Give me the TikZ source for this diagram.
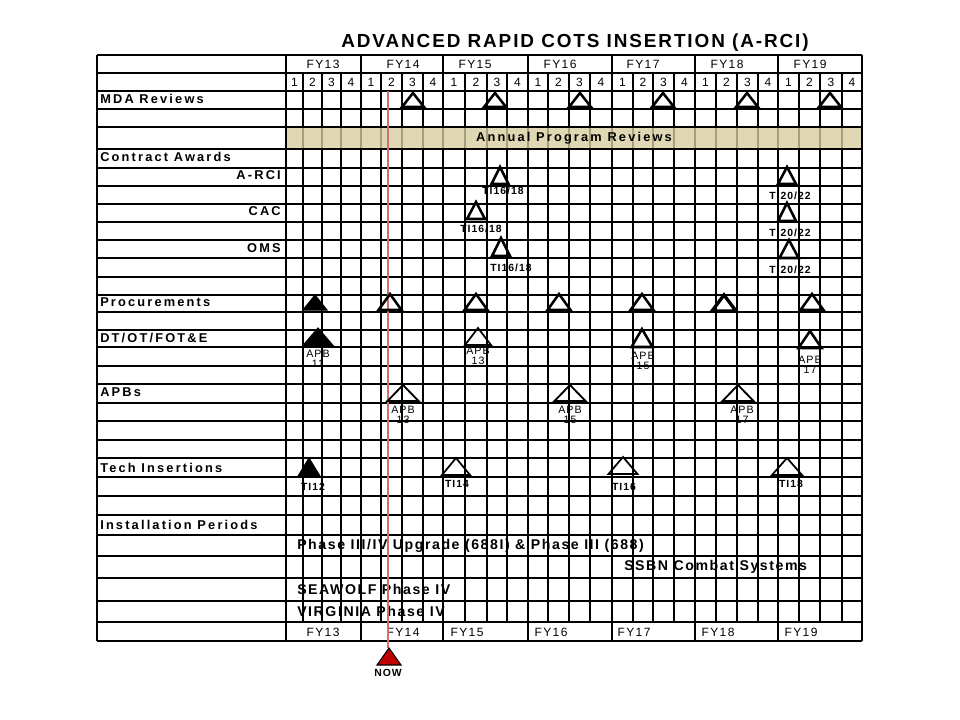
\documentclass[tikz,border=0pt]{standalone}
\usepackage{fontspec}
\setmainfont{Liberation Sans}
\newfontfamily\lblfont[LetterSpace=17]{Liberation Sans}
\newfontfamily\hdrfont[LetterSpace=12]{Liberation Sans}
\newfontfamily\smlfont[LetterSpace=10]{Liberation Sans}
\newfontfamily\ttlfont[LetterSpace=10]{Liberation Sans}
\newfontfamily\barfont[LetterSpace=11]{Liberation Sans}
\definecolor{tanbox}{RGB}{216,206,160}
\definecolor{nowline}{RGB}{210,110,110}
\definecolor{nowfill}{RGB}{192,0,0}
\newcommand{\mktri}[5]{\draw[#5] ({#1-#4},#3) -- (#1,#2) -- ({#1+#4},#3) -- cycle;}
\tikzset{
  gthin/.style={line width=1.1pt},
  gthick/.style={line width=2pt},
  tro/.style={line width=1.9pt, line join=miter},
  trf/.style={line width=0.8pt, fill=black, line join=miter},
  lbl/.style={font={\lblfont\bfseries\fontsize{9.6}{11}\selectfont}, inner sep=0pt},
  hdr/.style={font={\hdrfont\fontsize{9}{10}\selectfont}, inner sep=0pt},
  tilbl/.style={font={\smlfont\bfseries\fontsize{7.8}{8}\selectfont}, inner sep=0pt},
  apblbl/.style={font={\smlfont\fontsize{8}{7.5}\selectfont}, inner sep=0pt, align=center},
  barbox/.style={line width=2pt},
  bartxt/.style={font={\barfont\bfseries\fontsize{10.6}{12}\selectfont}, inner sep=0pt, anchor=west},
}
\begin{document}
\begin{tikzpicture}[x=0.75pt,y=-0.75pt]
\useasboundingbox (0,0) rectangle (960,720);
\fill[white] (0,0) rectangle (960,720);

% title
\node[font={\ttlfont\bfseries\fontsize{14.2}{15}\selectfont}, inner sep=0pt] (title) at (575,43) {ADVANCED RAPID COTS INSERTION (A-RCI)};

% horizontal lines
\foreach \y in {55,73,91,109,127,149,168,186,204,222,240,258,277,295,312,330,347,366,384,403,421,440,458,477,496,515,535,556,578,601,622,641}
  {\draw[gthin] (97,\y) -- (862,\y);}
% outer verticals
\draw[gthin] (97,55) -- (97,641);
\draw[gthin] (862,55) -- (862,641);
\draw[gthin] (286,55) -- (286,641);
\draw[gthick] (286,91) -- (286,622);
% quarter lines
\foreach \x in {303,322,341,381,402,423,507,528,548,569,590,612,633,653,674,758,778,799,820,842}
  {\draw[gthin] (\x,73) -- (\x,622);}
\foreach \x in {465,487,716,737}
  {\draw[gthick] (\x,73) -- (\x,622);}
\foreach \x in {443,695}
  {\draw[gthick] (\x,73) -- (\x,622);}
% year lines in header and footer rows
\foreach \x in {361,443,528,612,695,778} {
  \draw[gthin] (\x,55) -- (\x,73);
  \draw[gthin] (\x,622) -- (\x,641);
}
\draw[gthin] (361,73) -- (361,622);

% header texts
\foreach \c/\t in {323/FY13,403/FY14,475/FY15,560/FY16,643/FY17,727/FY18,810/FY19}
  {\node[hdr] (h\t) at (\c,64) {\t};}
\foreach \a/\b/\q in {286/303/1,303/322/2,322/341/3,341/361/4,361/381/1,381/402/2,402/423/3,423/443/4,443/465/1,465/487/2,487/507/3,507/528/4,528/548/1,548/569/2,569/590/3,590/612/4,612/633/1,633/653/2,653/674/3,674/695/4,695/716/1,716/737/2,737/758/3,758/778/4,778/799/1,799/820/2,820/842/3,842/862/4}
  {\node[hdr] (q\a) at ({(\a+\b)/2},82) {\q};}
% footer texts
\foreach \c/\t in {323/FY13,403/FY14,467/FY15,551/FY16,634/FY17,718/FY18,801/FY19}
  {\node[hdr] (f\t) at (\c,632) {\t};}

% left labels
\node[lbl, anchor=west] (lmda) at (100,99) {MDA Reviews};
\node[lbl, anchor=west] (lca) at (100,157) {Contract Awards};
\node[lbl, anchor=east] (larci) at (281,175) {A-RCI};
\node[lbl, anchor=east] (lcac) at (281,211) {CAC};
\node[lbl, anchor=east] (loms) at (281,248) {OMS};
\node[lbl, anchor=west] (lproc) at (100,302) {Procurements};
\node[lbl, anchor=west] (ldt) at (100,338) {DT/OT/FOT\&E};
\node[lbl, anchor=west] (lapb) at (100,392) {APBs};
\node[lbl, anchor=west] (lti) at (100,468) {Tech Insertions};
\node[lbl, anchor=west] (lip) at (100,525) {Installation Periods};

% annual program reviews box
\draw[line width=2pt, fill=tanbox, fill opacity=0.78] (286,127) rectangle (862,149);
\node[lbl] (apr) at (574,138) {Annual Program Reviews};

% installation bars
\draw[barbox] (286,535) rectangle (862,556);
\node[bartxt] (b1) at (297,546) {Phase III/IV Upgrade (688I) \& Phase III (688)};
\draw[barbox] (612,556) rectangle (862,578);
\node[bartxt] (b2) at (624,567) {SSBN Combat Systems};
\draw[barbox] (286,578) rectangle (862,601);
\node[bartxt] (b3) at (297,589) {SEAWOLF Phase IV};
\draw[barbox] (286,601) rectangle (862,622);
\node[bartxt] (b4) at (297,611) {VIRGINIA Phase IV};

% NOW line
\draw[nowline, line width=1.4pt] (388,91) -- (388,648);
\mktri{389}{648}{665}{12}{fill=nowfill, draw=black, line width=0.8pt}
\node[tilbl] (now) at (388,673) {NOW};

% MDA reviews
\foreach \x in {413,495,580,663,747,830}
  {\mktri{\x}{93}{107}{11}{tro}}

% contract awards
\mktri{500}{167}{184}{8.5}{tro}
\node[tilbl] (ta1) at (503,191) {TI16/18};
\mktri{787}{167}{184}{9}{tro}
\node[tilbl] (ta2) at (790,196) {TI20/22};
\mktri{476}{202}{219}{9}{tro}
\node[tilbl] (tc1) at (481,229) {TI16/18};
\mktri{787}{203}{221}{9}{tro}
\node[tilbl] (tc2) at (790,233) {TI20/22};
\mktri{501}{238}{256}{9}{tro}
\node[tilbl] (to1) at (511,268) {TI16/18};
\mktri{789}{240}{258}{9.5}{tro}
\node[tilbl] (to2) at (790,270) {TI20/22};

% procurements
\mktri{315}{295}{310}{12}{trf}
\foreach \x in {390,476,559,642,812}
  {\mktri{\x}{294}{310}{11.5}{tro}}
\mktri{724}{295}{311}{12}{line width=2.5pt, line join=miter}

% DT/OT/FOT&E
\mktri{318}{328}{346}{15.5}{trf}
\node[apblbl] (d1) at (318,359) {APB\\11};
\mktri{478}{328}{345}{13}{line width=1.3pt, line join=miter}
\node[apblbl] (d2) at (478,356) {APB\\13};
\mktri{642}{329}{347}{10.5}{tro}
\node[apblbl] (d3) at (643,361) {APB\\15};
\mktri{810}{331}{348}{11.5}{tro}
\node[apblbl] (d4) at (810,365) {APB\\17};

% APBs
\foreach \x in {403,570,738}
  {\mktri{\x}{385}{401}{15.5}{line width=1.4pt, line join=miter}}
\node[apblbl] (a1) at (403,415) {APB\\13};
\node[apblbl] (a2) at (570,415) {APB\\15};
\node[apblbl] (a3) at (742,415) {APB\\17};

% tech insertions
\mktri{309}{458}{477}{11.5}{trf}
\node[tilbl] (t1) at (313,487) {TI12};
\mktri{456}{458}{475}{14}{line width=1.3pt, line join=miter}
\node[tilbl] (t2) at (457,484) {TI14};
\mktri{623}{457}{474}{14.5}{line width=1.3pt, line join=miter}
\node[tilbl] (t3) at (624,487) {TI16};
\mktri{787}{458}{475}{15}{line width=1.3pt, line join=miter}
\node[tilbl] (t4) at (791,484) {TI18};
\end{tikzpicture}
\end{document}
